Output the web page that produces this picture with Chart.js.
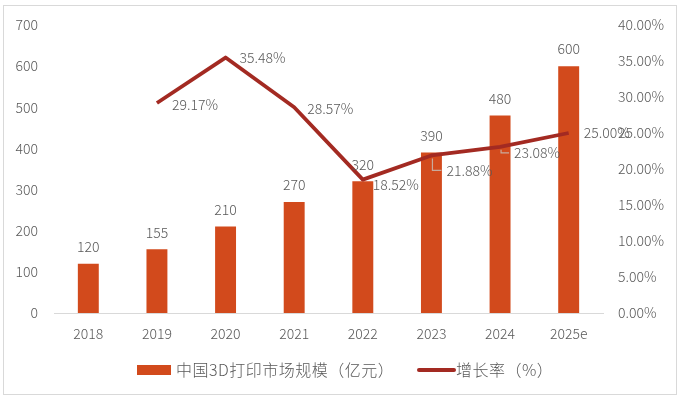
<!DOCTYPE html>
<html><head><meta charset="utf-8">
<script src="https://cdn.jsdelivr.net/npm/chart.js@4.4.1/dist/chart.umd.min.js"></script>
<style>html,body{margin:0;padding:0;background:#fff}</style>
</head><body>
<canvas id="c" width="681" height="402" style="width:681px;height:402px;display:block"></canvas>
<script>
const categories = ['2018','2019','2020','2021','2022','2023','2024','2025e'];
const marketSize = [120,155,210,270,320,390,480,600];
const growthRate = [null,29.17,35.48,28.57,18.52,21.88,23.08,25.00];
const barLabel = '中国3D打印市场规模（亿元）';
const lineLabel = '增长率（%）';

const BAR_COLOR = '#D24A1C';
const LINE_COLOR = '#A32A22';
const TEXT_COLOR = '#595959';
const FONT = '"Noto Sans CJK SC","Noto Sans",sans-serif';
const WEIGHT = '300';

// label placement styling for growth-rate labels: [dx, dy, leader]
const lineLabelStyle = [null,[15,2,0],[14,0,0],[13,1,0],[10,5,0],[15,15,1],[14,6,1],[15,0,0]];

const decor = {
  id:'decor',
  beforeDraw(chart){
    const ctx = chart.ctx;
    ctx.save();
    ctx.fillStyle = '#fff';
    ctx.fillRect(0,0,chart.width,chart.height);
    ctx.strokeStyle = '#d9d9d9';
    ctx.lineWidth = 1;
    ctx.strokeRect(3.5,5.5,673,389);
    ctx.restore();
  },
  afterDatasetsDraw(chart){
    const ctx = chart.ctx;
    ctx.save();
    ctx.font = WEIGHT + ' 14px ' + FONT;
    ctx.fillStyle = TEXT_COLOR;
    ctx.textBaseline = 'middle';
    ctx.textAlign = 'center';
    const bars = chart.getDatasetMeta(1).data;
    bars.forEach((el,i)=>{
      ctx.fillText(String(marketSize[i]), el.x, el.y - 17);
    });
    const pts = chart.getDatasetMeta(0).data;
    ctx.textAlign = 'left';
    pts.forEach((el,i)=>{
      const v = growthRate[i];
      if (v === null) return;
      const st = lineLabelStyle[i];
      if (st[2]) {
        ctx.strokeStyle = '#c9aa9c';
        ctx.lineWidth = 1.2;
        ctx.beginPath();
        ctx.moveTo(el.x + 1, el.y + 3);
        ctx.lineTo(el.x + 1, el.y + st[1]);
        ctx.lineTo(el.x + st[0] - 5, el.y + st[1]);
        ctx.stroke();
      }
      ctx.fillStyle = TEXT_COLOR;
      ctx.fillText(v.toFixed(2) + '%', el.x + st[0], el.y + st[1]);
    });
    // legend
    ctx.font = WEIGHT + ' 16px ' + FONT;
    try { ctx.letterSpacing = '0.5px'; } catch(e) {}
    const ly = 370;
    ctx.fillStyle = BAR_COLOR;
    ctx.fillRect(137, ly - 5, 34, 10);
    ctx.fillStyle = TEXT_COLOR;
    ctx.fillText(chart.data.datasets[1].label, 176, ly);
    ctx.strokeStyle = LINE_COLOR;
    ctx.lineWidth = 4;
    ctx.lineCap = 'round';
    ctx.beginPath();
    ctx.moveTo(419, ly); ctx.lineTo(454, ly);
    ctx.stroke();
    ctx.fillText(chart.data.datasets[0].label, 456, ly);
    ctx.restore();
  }
};

new Chart(document.getElementById('c'), {
  data: {
    labels: categories,
    datasets: [
      { type:'line', label: lineLabel, data: growthRate, yAxisID:'y1', order:0,
        borderColor: LINE_COLOR, borderWidth: 3.8, pointRadius: 0, tension: 0,
        borderJoinStyle:'round', spanGaps:false },
      { type:'bar', label: barLabel, data: marketSize, yAxisID:'y', order:1,
        backgroundColor: BAR_COLOR, barPercentage: 0.61, categoryPercentage: 0.5 }
    ]
  },
  options: {
    responsive:false, animation:false, devicePixelRatio:1,
    layout:{ padding:{ top:25, left:0, right:0, bottom:0 } },
    plugins:{ legend:{display:false}, tooltip:{enabled:false} },
    scales:{
      x:{
        grid:{display:false, drawTicks:false},
        border:{display:true, color:'#d9d9d9', width:1},
        ticks:{color:TEXT_COLOR, font:{family:FONT, size:14, weight:WEIGHT}, padding:12, maxRotation:0},
        afterFit(s){ s.height = 89; }
      },
      y:{
        position:'left', min:0, max:700,
        grid:{display:false, drawTicks:false},
        border:{display:false},
        ticks:{stepSize:100, color:TEXT_COLOR, font:{family:FONT, size:14, weight:WEIGHT}, padding:16},
        afterFit(s){ s.width = 54; }
      },
      y1:{
        position:'right', min:0, max:40,
        grid:{display:false, drawTicks:false},
        border:{display:false},
        ticks:{stepSize:5, color:TEXT_COLOR, font:{family:FONT, size:14, weight:WEIGHT}, padding:15,
          callback:(v)=>Number(v).toFixed(2)+'%'},
        afterFit(s){ s.width = 78; }
      }
    }
  },
  plugins:[decor]
});
</script>
</body></html>
